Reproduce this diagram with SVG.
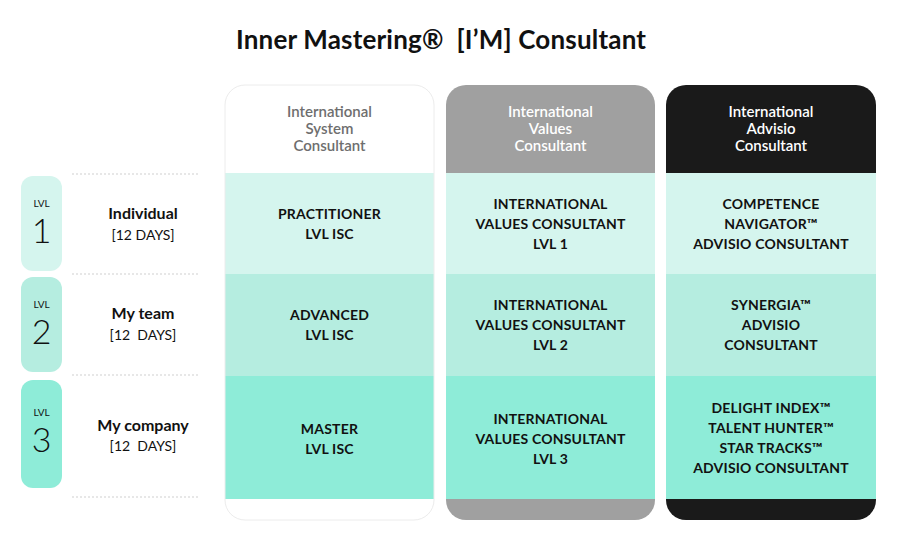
<svg xmlns="http://www.w3.org/2000/svg" width="900" height="550" viewBox="0 0 900 550">
<defs>
<style>
text{font-family:Lato,"Noto Sans","Liberation Sans",sans-serif;text-anchor:middle}
.title{font-size:26px;font-weight:700;fill:#111}
.hd{font-size:15px;font-weight:600}
.cell{font-size:14px;font-weight:700;fill:#111;letter-spacing:0.2px}
.lbl{font-size:16px;font-weight:700;fill:#111}
.days{font-size:14px;font-weight:400;fill:#111}
.lvl{font-size:10px;font-weight:400;fill:#111}
.num{font-size:34px;font-weight:300;fill:#111}
.r1{fill:#d5f5ee}.r2{fill:#b5ede0}.r3{fill:#8eecd8}
.dot{stroke:#cfcfcf;stroke-width:1;stroke-dasharray:2 2;fill:none}
</style>
<clipPath id="c1"><rect x="225" y="85" width="209" height="435" rx="20"/></clipPath>
<clipPath id="c2"><rect x="446" y="85" width="209" height="435" rx="20"/></clipPath>
<clipPath id="c3"><rect x="666" y="85" width="210" height="435" rx="20"/></clipPath>
</defs>
<rect width="900" height="550" fill="#fff"/>
<text class="title" x="441" y="49" xml:space="preserve" textLength="410" lengthAdjust="spacing">Inner Mastering®  [I’M] Consultant</text>

<g id="separators">
<line class="dot" x1="72" y1="174" x2="200" y2="174"/>
<line class="dot" x1="72" y1="274" x2="200" y2="274"/>
<line class="dot" x1="72" y1="375" x2="200" y2="375"/>
<line class="dot" x1="72" y1="497" x2="200" y2="497"/>
</g>

<g id="level1">
<rect class="r1" x="21" y="176" width="41" height="95" rx="12"/>
<text class="lvl" x="41.5" y="207">LVL</text>
<text class="num" x="41.5" y="243">1</text>
<text class="lbl" x="143" y="219">Individual</text>
<text class="days" x="143" y="240">[12 DAYS]</text>
</g>
<g id="level2">
<rect class="r2" x="21" y="277" width="41" height="95" rx="12"/>
<text class="lvl" x="41.5" y="308">LVL</text>
<text class="num" x="41.5" y="344">2</text>
<text class="lbl" x="143" y="319">My team</text>
<text class="days" x="143" y="340" xml:space="preserve">[12  DAYS]</text>
</g>
<g id="level3">
<rect class="r3" x="21" y="380" width="41" height="108" rx="12"/>
<text class="lvl" x="41.5" y="416">LVL</text>
<text class="num" x="41.5" y="452">3</text>
<text class="lbl" x="143" y="431">My company</text>
<text class="days" x="143" y="451" xml:space="preserve">[12  DAYS]</text>
</g>

<g id="col-system">
<g clip-path="url(#c1)">
<rect x="225" y="85" width="209" height="435" fill="#fff"/>
<rect class="r1" x="225" y="173" width="209" height="101"/>
<rect class="r2" x="225" y="274" width="209" height="102"/>
<rect class="r3" x="225" y="376" width="209" height="123"/>
</g>
<rect x="225" y="85" width="209" height="435" rx="20" fill="none" stroke="#ececec" stroke-width="1"/>
<text class="hd" fill="#6e6e6e"><tspan x="329.5" y="117">International</tspan><tspan x="329.5" y="134">System</tspan><tspan x="329.5" y="151">Consultant</tspan></text>
<text class="cell"><tspan x="329.5" y="219">PRACTITIONER</tspan><tspan x="329.5" y="239">LVL ISC</tspan></text>
<text class="cell"><tspan x="329.5" y="320">ADVANCED</tspan><tspan x="329.5" y="340">LVL ISC</tspan></text>
<text class="cell"><tspan x="329.5" y="434">MASTER</tspan><tspan x="329.5" y="454">LVL ISC</tspan></text>
</g>

<g id="col-values">
<g clip-path="url(#c2)">
<rect x="446" y="85" width="209" height="435" fill="#a0a0a0"/>
<rect class="r1" x="446" y="173" width="209" height="101"/>
<rect class="r2" x="446" y="274" width="209" height="102"/>
<rect class="r3" x="446" y="376" width="209" height="123"/>
</g>
<text class="hd" fill="#fff"><tspan x="550.5" y="117">International</tspan><tspan x="550.5" y="134">Values</tspan><tspan x="550.5" y="151">Consultant</tspan></text>
<text class="cell"><tspan x="550.5" y="209">INTERNATIONAL</tspan><tspan x="550.5" y="229">VALUES CONSULTANT</tspan><tspan x="550.5" y="249">LVL 1</tspan></text>
<text class="cell"><tspan x="550.5" y="310">INTERNATIONAL</tspan><tspan x="550.5" y="330">VALUES CONSULTANT</tspan><tspan x="550.5" y="350">LVL 2</tspan></text>
<text class="cell"><tspan x="550.5" y="424">INTERNATIONAL</tspan><tspan x="550.5" y="444">VALUES CONSULTANT</tspan><tspan x="550.5" y="464">LVL 3</tspan></text>
</g>

<g id="col-advisio">
<g clip-path="url(#c3)">
<rect x="666" y="85" width="210" height="435" fill="#1a1a1a"/>
<rect class="r1" x="666" y="173" width="210" height="101"/>
<rect class="r2" x="666" y="274" width="210" height="102"/>
<rect class="r3" x="666" y="376" width="210" height="123"/>
</g>
<text class="hd" fill="#fff" font-weight="700"><tspan x="771" y="117">International</tspan><tspan x="771" y="134">Advisio</tspan><tspan x="771" y="151">Consultant</tspan></text>
<text class="cell"><tspan x="771" y="209">COMPETENCE</tspan><tspan x="771" y="229">NAVIGATOR™</tspan><tspan x="771" y="249">ADVISIO CONSULTANT</tspan></text>
<text class="cell"><tspan x="771" y="310">SYNERGIA™</tspan><tspan x="771" y="330">ADVISIO</tspan><tspan x="771" y="350">CONSULTANT</tspan></text>
<text class="cell"><tspan x="771" y="413">DELIGHT INDEX™</tspan><tspan x="771" y="433">TALENT HUNTER™</tspan><tspan x="771" y="453">STAR TRACKS™</tspan><tspan x="771" y="473">ADVISIO CONSULTANT</tspan></text>
</g>
</svg>
